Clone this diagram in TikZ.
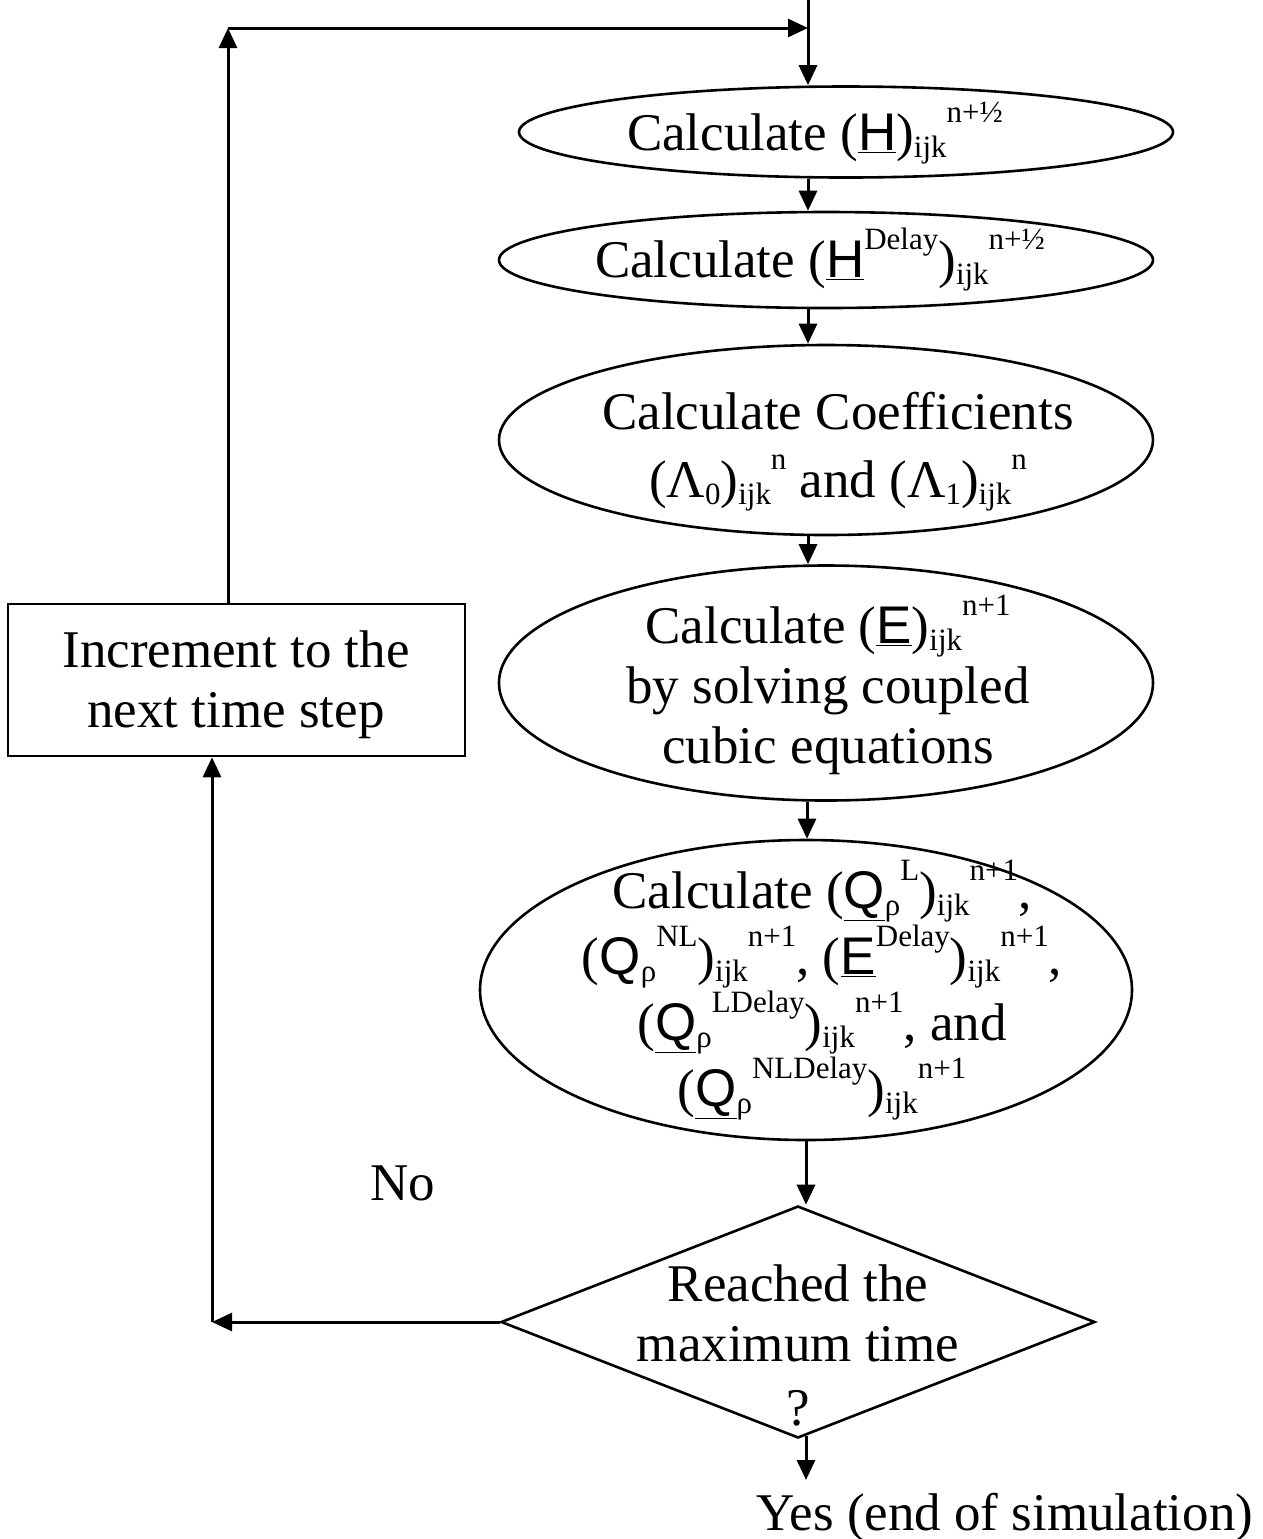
\documentclass[tikz,border=0pt]{standalone}
\usepackage{fontspec}
\setmainfont{Liberation Serif}
\setsansfont{Liberation Sans}
\usetikzlibrary{arrows.meta,shapes.geometric}
\newcommand\sps[1]{\raisebox{0.52em}{\fontsize{15.5pt}{15.5pt}\selectfont #1}}
\newcommand\sbs[1]{\raisebox{-0.15em}{\fontsize{15.5pt}{15.5pt}\selectfont #1}}
\newcommand\usf[1]{\underline{\sffamily #1}}
\newcommand\tightlines{\fontsize{26.5pt}{33pt}\selectfont\lineskiplimit=-100pt\relax}
\begin{document}
\begin{tikzpicture}[x=0.5pt,y=-0.5pt,
  every node/.style={font=\fontsize{26.5pt}{30pt}\selectfont},
  ell/.style={draw, line width=1.3pt, ellipse, inner sep=0pt, fill=white},
  txt/.style={align=center, inner sep=0pt, anchor=base},
  arr/.style={line width=1.5pt, -{Triangle[length=10pt,width=9pt]}}]
\useasboundingbox (0,0) rectangle (1263,1539);

% shapes
\node[ell, minimum width=327pt, minimum height=45.5pt] (e1) at (846,132) {};
\node[ell, minimum width=327pt, minimum height=48pt] (e2) at (826,260) {};
\node[ell, minimum width=327pt, minimum height=95pt] (e3) at (826,440) {};
\node[ell, minimum width=327pt, minimum height=117.5pt] (e4) at (826,683) {};
\node[ell, minimum width=326pt, minimum height=150pt] (e5) at (806,990) {};
\node[draw, line width=1.3pt, diamond, inner sep=0pt, minimum width=297pt, minimum height=116pt] (d) at (798,1322) {};
\node[draw, line width=1.3pt, rectangle, inner sep=0pt, minimum width=228.5pt, minimum height=76pt] (box) at (236.5,680) {};

% texts (anchor base = baseline of the last line)
\node[txt] (t1) at (815,150) {Calculate (\usf{H})\sbs{ijk}\sps{n+½}};
\node[txt] (t2) at (820,277) {Calculate (\usf{H}\sps{Delay})\sbs{ijk}\sps{n+½}};
\node[txt] (t3) at (838,497) {Calculate Coefficients\\[4pt](Λ\sbs{0})\sbs{ijk}\sps{n} and (Λ\sbs{1})\sbs{ijk}\sps{n}};
\node[txt] (t4) at (828,763) {Calculate (\usf{E})\sbs{ijk}\sps{n+1}\\by solving coupled\\cubic equations};
\node[txt, font=\tightlines] (t5) at (822,1106) {Calculate (\usf{Q}\sbs{ρ}\sps{L})\sbs{ijk}\sps{n+1},\\({\sffamily Q}\sbs{ρ}\sps{NL})\sbs{ijk}\sps{n+1}, (\usf{E}\sps{Delay})\sbs{ijk}\sps{n+1},\\(\usf{Q}\sbs{ρ}\sps{LDelay})\sbs{ijk}\sps{n+1}, and\\(\usf{Q}\sbs{ρ}\sps{NLDelay})\sbs{ijk}\sps{n+1}};
\node[txt] (td) at (798,1425) {Reached the\\maximum time\\[2pt]?};
\node[txt] (tb) at (236,727) {Increment to the\\next time step};
\node[txt] (no) at (403,1200) {No};
\node[txt] (yes) at (1005,1530) {Yes (end of simulation)};

% coordinates
\coordinate (top) at (808,0);
\coordinate (col) at (807,0);
\coordinate (corner) at (228,28);
\coordinate (join) at (808,28);
\coordinate (lc) at (212,1322);
\coordinate (yend) at (806,1480);
\coordinate (ystart) at (806,1436);

% connectors
\draw[arr] (top) -- (top |- e1.north);
\draw[arr] (corner) -- (join);
\draw[arr] (box.north -| corner) -- (corner);
\draw[arr] (e1.south -| top) -- (e2.north -| top);
\draw[arr] (e2.south -| top) -- (e3.north -| top);
\draw[arr] (e3.south -| top) -- (e4.north -| top);
\draw[arr] (e4.south -| col) -- (e5.north -| col);
\draw[arr] (e5.south -| yend) -- (d.north -| yend);
\draw[arr] (ystart) -- (yend);
\draw[arr] (d.west) -- (lc);
\draw[arr] (lc) -- (lc |- box.south);
\end{tikzpicture}
\end{document}
